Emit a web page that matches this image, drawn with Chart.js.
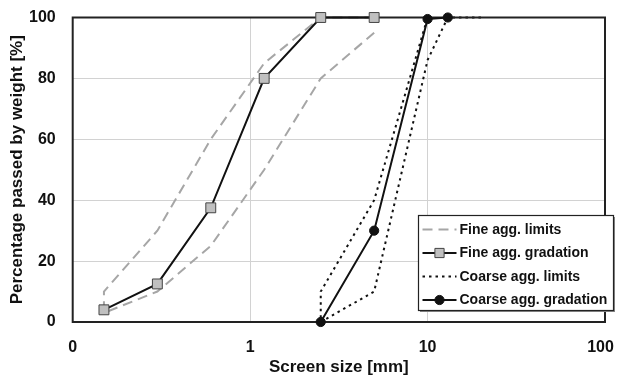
<!DOCTYPE html>
<html lang="en">
<head>
    <meta charset="UTF-8">
    <title>Gradation curves</title>
    <script src="https://cdn.jsdelivr.net/npm/chart.js"></script>
    <style>
        body { margin: 0; background: #fff; }
    </style>
</head>
<body>
    <canvas id="myChart" width="617" height="378"></canvas>

<script>
// sieve sizes [mm] and percentage passing
const fineSizes = [0.15, 0.3, 0.6, 1.2, 2.5, 5];
const fineGradation = [4, 12.5, 37.5, 80, 100, 100];

// fine limits: lower curve going down, then upper curve going up
const fineLimitSizes = [5, 2.5, 1.2, 0.6, 0.3, 0.15, 0.15, 0.3, 0.6, 1.2, 2.5, 5];
const fineLimitPass = [95, 80, 50, 25, 10, 3, 10, 30, 60, 85, 100, 100];

const coarseSizes = [2.5, 5, 10, 13];
const coarseGradation = [0, 30, 99.5, 100];

const coarseLimitSizes = [20, 13, 10, 5, 2.5, 2.5, 5, 10];
const coarseLimitPass = [100, 100, 86, 10, 0, 10, 40, 100];

const xTickValues = [0.1, 1, 10, 100];
const xTickLabels = ['0', '1', '10', '100  '];

const FONT = "'Liberation Sans', Arial, Helvetica, sans-serif";

const toPoints = (xs, ys) => xs.map((x, i) => ({x: x, y: ys[i]}));

// legend order (index into datasets)
const legendOrder = [3, 1, 2, 0];

const data = {
    datasets: [{
        label: 'Coarse agg. gradation',
        data: toPoints(coarseSizes, coarseGradation),
        borderColor: '#111',
        borderWidth: 2,
        pointStyle: 'circle',
        pointRadius: 4.6,
        pointBackgroundColor: '#111',
        pointBorderColor: '#111',
        pointBorderWidth: 1
    }, {
        label: 'Fine agg. gradation',
        data: toPoints(fineSizes, fineGradation),
        borderColor: '#111',
        borderWidth: 2,
        pointStyle: 'rect',
        pointRadius: 7,
        pointBackgroundColor: '#c0c0c0',
        pointBorderColor: '#444',
        pointBorderWidth: 1
    }, {
        label: 'Coarse agg. limits',
        data: toPoints(coarseLimitSizes, coarseLimitPass),
        borderColor: '#111',
        borderWidth: 2,
        borderDash: [2.5, 4],
        pointRadius: 0
    }, {
        label: 'Fine agg. limits',
        data: toPoints(fineLimitSizes, fineLimitPass),
        borderColor: '#a6a6a6',
        borderWidth: 2,
        borderDash: [10, 6],
        pointRadius: 0
    }]
};

// plot frame drawn under the gradation curves
const framePlugin = {
    id: 'frame',
    beforeDatasetDraw(chart, args) {
        if (args.index !== 1) return;
        const a = chart.chartArea;
        const ctx = chart.ctx;
        ctx.save();
        ctx.strokeStyle = '#222';
        ctx.lineWidth = 2;
        ctx.strokeRect(a.left, a.top, a.right - a.left, a.bottom - a.top);
        ctx.restore();
    }
};

// boxed legend inside the plot
const legendPlugin = {
    id: 'boxLegend',
    afterDraw(chart) {
        const ctx = chart.ctx;
        const bx = 418.5, by = 215.5, bw = 195, bh = 95;
        ctx.save();
        ctx.fillStyle = '#888';
        ctx.fillRect(bx + 1.5, by + 1.5, bw, bh);
        ctx.fillStyle = '#fff';
        ctx.fillRect(bx, by, bw, bh);
        ctx.strokeStyle = '#222';
        ctx.lineWidth = 1.2;
        ctx.strokeRect(bx, by, bw, bh);

        ctx.font = 'bold 14px ' + FONT;
        ctx.textBaseline = 'middle';
        ctx.textAlign = 'left';
        legendOrder.forEach((di, row) => {
            const ds = chart.data.datasets[di];
            const y = by + 14 + row * 23.5;
            const x0 = bx + 4, x1 = bx + 38;
            ctx.strokeStyle = ds.borderColor;
            ctx.lineWidth = ds.borderWidth;
            ctx.setLineDash(ds.borderDash || []);
            ctx.beginPath();
            ctx.moveTo(x0, y);
            ctx.lineTo(x1, y);
            ctx.stroke();
            ctx.setLineDash([]);
            if (ds.pointRadius > 0) {
                ctx.fillStyle = ds.pointBackgroundColor;
                ctx.strokeStyle = ds.pointBorderColor;
                ctx.lineWidth = 1;
                Chart.helpers.drawPoint(ctx, {
                    pointStyle: ds.pointStyle,
                    radius: ds.pointStyle === 'rect' ? 6.5 : 4.6,
                    rotation: 0,
                    borderWidth: 1
                }, (x0 + x1) / 2, y);
            }
            ctx.fillStyle = '#111';
            ctx.fillText(ds.label, bx + 41, y + 0.5);
        });
        ctx.restore();
    }
};

const config = {
    type: 'line',
    data: data,
    options: {
        responsive: false,
        animation: false,
        devicePixelRatio: 1,
        clip: false,
        elements: { line: { tension: 0 } },
        layout: { padding: { top: 17.5, right: 12, left: 0, bottom: 0 } },
        plugins: {
            legend: { display: false },
            tooltip: { enabled: false }
        },
        scales: {
            x: {
                type: 'logarithmic',
                min: 0.1,
                max: 100,
                afterBuildTicks: (s) => { s.ticks = xTickValues.map(v => ({value: v})); },
                afterFit: (s) => { s.height = 56; s.paddingLeft = 0; s.paddingRight = 0; },
                ticks: {
                    autoSkip: false,
                    maxRotation: 0,
                    padding: 16,
                    color: '#111',
                    font: { family: FONT, size: 16, weight: 'bold' },
                    callback: (v, i) => xTickLabels[i]
                },
                grid: { color: '#d2d2d2', lineWidth: 1, drawTicks: false },
                border: { display: false },
                title: {
                    display: true,
                    text: 'Screen size [mm]',
                    color: '#111',
                    font: { family: FONT, size: 17, weight: 'bold' },
                    padding: { top: 2, bottom: 0 }
                }
            },
            y: {
                min: 0,
                max: 100,
                afterFit: (s) => { s.width = 72.7; s.paddingTop = 0; s.paddingBottom = 0; },
                ticks: {
                    stepSize: 20,
                    padding: 17,
                    color: '#111',
                    font: { family: FONT, size: 16, weight: 'bold' }
                },
                grid: { color: '#d2d2d2', lineWidth: 1, drawTicks: false },
                border: { display: false },
                title: {
                    display: true,
                    text: 'Percentage passed by weight [%]',
                    color: '#111',
                    font: { family: FONT, size: 17, weight: 'bold' },
                    padding: { top: 7, bottom: 0 }
                }
            }
        }
    },
    plugins: [framePlugin, legendPlugin]
};

const myChart = new Chart(document.getElementById('myChart'), config);
</script>
</body>
</html>
